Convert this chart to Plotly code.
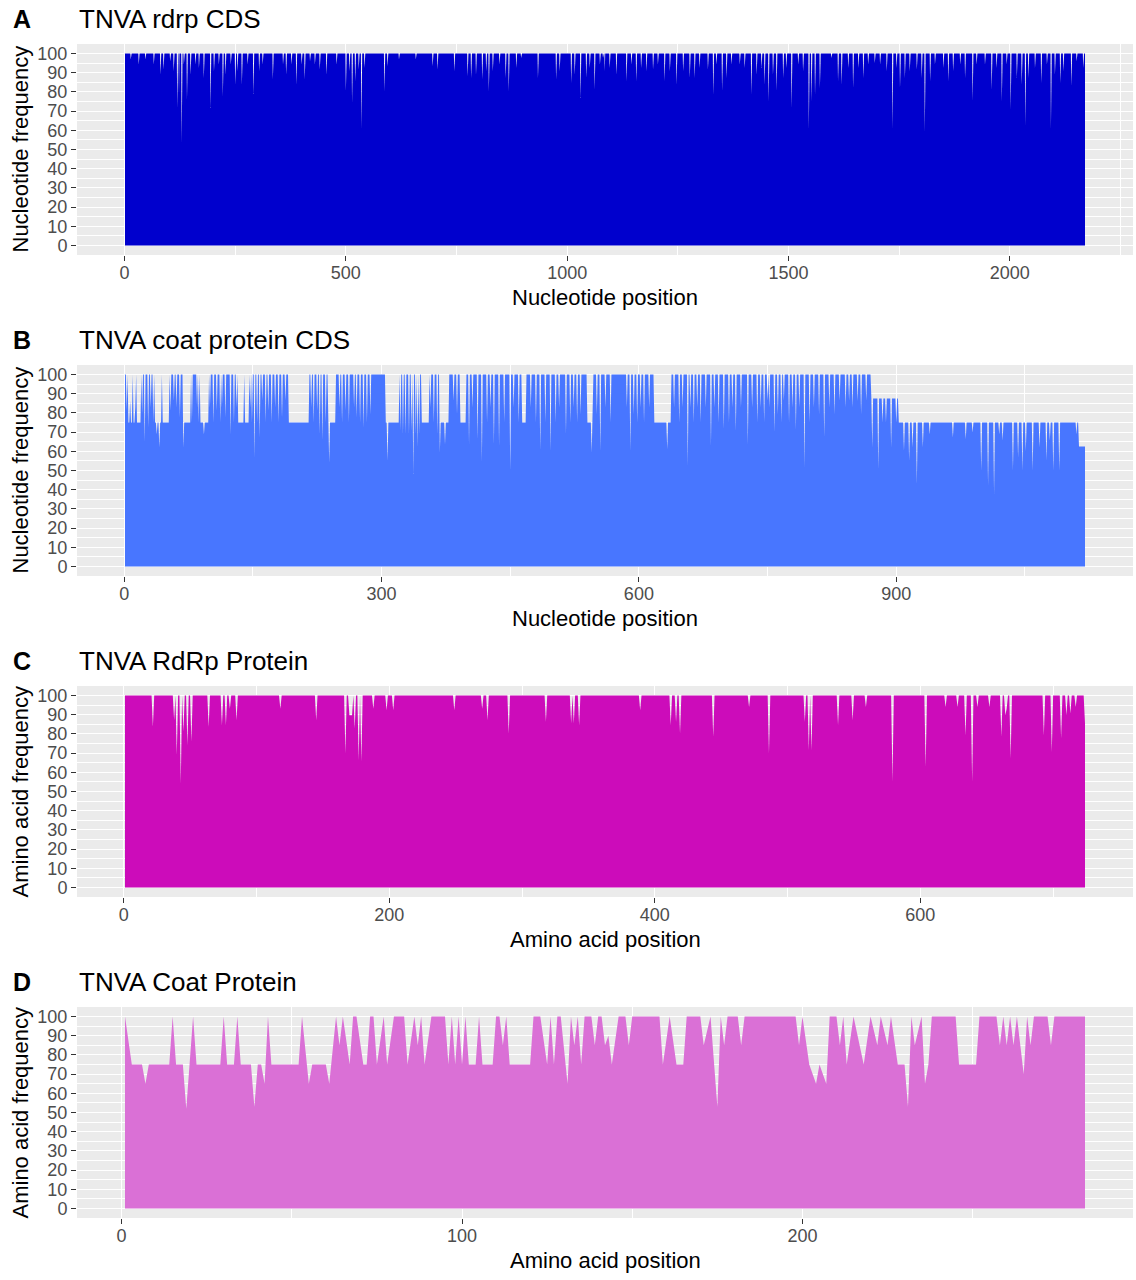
"""
Conservation profiles of TNVA coding sequences and proteins.

Four stacked area charts (ggplot-like style):
A - rdrp CDS nucleotide frequency
B - coat protein CDS nucleotide frequency
C - RdRp protein amino acid frequency
D - coat protein amino acid frequency
"""

import numpy as np
import plotly.graph_objects as go

# ---------------------------------------------------------------------------
# Data. Positions are 1-based; every position not listed
# sits at 100 % unless a run below says otherwise.
# ---------------------------------------------------------------------------

# A: rdrp CDS
rdrp_nt_length = 2170
rdrp_nt_dip_pos = [
    14, 32, 47, 66, 81, 88, 103, 111, 119, 123, 129, 134, 141, 149, 160, 168,
    179, 194, 202, 213, 222, 228, 240, 250, 255, 265, 278, 291, 304, 312, 335,
    358, 365, 377, 388, 400, 407, 419, 430, 441, 456, 479, 500, 508, 514, 521,
    529, 535, 542, 587, 594, 620, 658, 696, 707, 745, 775, 783, 794, 808, 817,
    823, 832, 847, 861, 868, 885, 896, 934, 975, 983, 1009, 1017, 1030, 1043,
    1051, 1062, 1074, 1081, 1085, 1096, 1111, 1134, 1145, 1156, 1167, 1179,
    1194, 1205, 1220, 1232, 1247, 1262, 1277, 1288, 1299, 1318, 1330, 1337,
    1350, 1360, 1371, 1390, 1401, 1416, 1428, 1439, 1446, 1455, 1465, 1473,
    1488, 1495, 1507, 1522, 1533, 1546, 1552, 1560, 1571, 1597, 1612, 1620,
    1635, 1646, 1658, 1669, 1680, 1695, 1707, 1722, 1735, 1744, 1752, 1763,
    1774, 1790, 1801, 1808, 1820, 1831, 1850, 1861, 1872, 1888, 1899, 1916,
    1925, 1944, 1959, 1970, 1982, 1993, 2002, 2016, 2027, 2035, 2042, 2057,
    2071, 2084, 2093, 2102, 2114, 2121, 2139, 2151, 2166,
]
rdrp_nt_dip_freq = [
    96.9, 94.3, 96.9, 94.3, 89.0, 91.7, 96.0, 90.8, 71.7, 78.6, 53.5, 94.3,
    76.0, 89.0, 94.3, 92.5, 87.3, 71.7, 90.8, 94.3, 77.8, 89.0, 94.3, 83.8,
    90.8, 83.8, 94.3, 78.9, 90.8, 94.3, 86.5, 94.3, 89.0, 94.3, 83.8, 94.3,
    86.5, 96.0, 94.3, 91.7, 89.0, 94.3, 80.4, 90.8, 74.3, 85.6, 91.7, 60.4,
    92.5, 80.4, 93.4, 96.9, 96.9, 93.4, 91.7, 90.8, 88.2, 87.3, 89.0, 86.5,
    90.8, 80.4, 90.8, 94.3, 87.3, 80.4, 92.5, 97.7, 87.3, 86.5, 90.8, 84.7,
    89.0, 76.9, 87.3, 92.5, 81.2, 94.3, 97.7, 90.8, 92.5, 89.0, 85.6, 94.3,
    85.6, 92.5, 90.8, 91.7, 94.3, 85.6, 90.8, 83.8, 90.8, 87.3, 87.3, 92.5,
    91.7, 78.6, 94.3, 80.4, 87.3, 94.3, 94.3, 92.5, 78.6, 89.0, 92.5, 83.8,
    75.2, 89.0, 80.4, 87.3, 92.5, 71.7, 94.3, 90.8, 60.4, 75.2, 78.6, 82.1,
    97.7, 85.6, 83.8, 92.5, 82.1, 92.5, 87.3, 94.3, 95.1, 94.3, 90.8, 60.4,
    92.5, 82.1, 87.3, 90.8, 91.7, 87.3, 58.7, 85.6, 94.3, 92.5, 85.6, 90.8,
    94.3, 87.3, 75.2, 94.3, 94.3, 81.2, 92.5, 75.2, 94.3, 70.8, 87.3, 83.8,
    62.1, 87.3, 92.5, 84.7, 94.3, 60.4, 89.0, 84.7, 90.8, 83.0, 96.0, 92.5,
]

# B: coat protein CDS - stretches that sit below 100 %
coat_nt_length = 1120
coat_nt_run_start = [5, 36, 69, 89, 133, 192, 238, 305, 347, 369, 392, 464,
                     540, 618, 871, 903, 1113]
coat_nt_run_end = [19, 52, 77, 98, 145, 215, 246, 320, 355, 378, 398, 468,
                   546, 637, 902, 1112, 1120]
coat_nt_run_freq = [75, 75, 75, 75, 75, 75, 75, 75, 75, 75, 75, 75,
                    75, 75, 87.5, 75, 62.5]
# single positions on top of the runs
coat_nt_pt_pos = [
    3, 7, 10, 13, 14, 21, 24, 28, 31, 34, 38, 41, 44, 54, 58, 61, 65, 69, 79,
    85, 87, 93, 100, 104, 108, 112, 114, 118, 124, 128, 131, 140, 147, 149,
    152, 155, 158, 161, 165, 168, 172, 176, 180, 184, 188, 218, 221, 225, 228,
    231, 235, 239, 251, 254, 258, 262, 268, 271, 275, 279, 283, 287, 307, 322,
    325, 328, 332, 335, 337, 340, 342, 344, 357, 361, 365, 368, 374, 384, 388,
    402, 406, 412, 417, 423, 427, 431, 437, 443, 450, 454, 460, 474, 480, 485,
    491, 497, 503, 507, 515, 520, 524, 528, 532, 545, 551, 555, 561, 567, 586,
    590, 594, 598, 602, 606, 612, 633, 641, 647, 651, 657, 660, 664, 668, 672,
    678, 684, 688, 693, 699, 705, 709, 713, 719, 727, 732, 738, 742, 746, 750,
    752, 758, 762, 766, 769, 775, 779, 783, 787, 793, 799, 804, 810, 816, 822,
    828, 834, 841, 845, 849, 855, 859, 865, 872, 879, 884, 888, 894, 900, 909,
    915, 919, 924, 931, 939, 966, 981, 989, 999, 1007, 1014, 1020, 1024, 1036,
    1042, 1047, 1051, 1059, 1067, 1075, 1079, 1083, 1090, 1110,
]
coat_nt_pt_freq = [
    81.1, 86.3, 100, 82.8, 100, 79.3, 64.6, 72.4, 82.8, 75, 68.9, 62, 100,
    81.1, 86.3, 82.8, 77.6, 62, 75, 82.8, 75, 68.9, 82.8, 75, 81.1, 75, 82.8,
    77.6, 68.9, 75, 82.8, 100, 82.8, 75, 56.8, 75, 67.2, 86.3, 75, 81.1, 75,
    82.8, 75, 77.6, 86.3, 82.8, 75, 81.1, 68.9, 65.5, 75, 54.2, 82.8, 75,
    81.1, 75, 82.8, 77.6, 75, 72.4, 75, 79.3, 55.1, 70.6, 68.9, 68.9, 68.9,
    70.6, 48.2, 68.9, 62, 68.9, 82.8, 75, 68.9, 59.4, 63.7, 86.3, 79.3, 63.7,
    82.8, 66.3, 54.2, 75, 82.8, 63.7, 62.9, 75, 49.9, 82.8, 75, 82.8, 75,
    60.2, 75, 60.2, 75, 82.8, 68.9, 75, 82.8, 75, 79.3, 59.4, 79.3, 60.2,
    82.8, 75, 82.8, 60.2, 79.3, 75, 82.8, 75, 82.8, 61.1, 82.8, 75, 82.8,
    52.5, 82.8, 75, 82.8, 75, 82.8, 62.9, 82.8, 75, 71.5, 75, 82.8, 70.6,
    82.8, 63.7, 82.8, 75, 82.8, 75, 86.3, 82.8, 69.8, 79.3, 75, 86.3, 75,
    82.8, 71.5, 82.8, 51.6, 75, 82.8, 79.3, 67.2, 82.8, 79.3, 86.3, 82.8,
    86.3, 82.8, 86.3, 79.3, 86.3, 62, 50.8, 75, 75, 62, 75, 60.2, 55.1, 62,
    43, 62, 68.9, 67.2, 66.3, 69.8, 49.9, 42.1, 37.8, 68.9, 65.5, 49.9, 56.8,
    49.9, 60.2, 49.9, 62, 55.1, 65.5, 49.9, 49.9, 68.9,
]

# C: RdRp protein
rdrp_aa_length = 724
rdrp_aa_dip_pos = [
    22, 38, 40, 43, 45, 48, 51, 64, 74, 77, 80, 85, 118, 145, 167, 170, 171,
    172, 174, 177, 179, 188, 198, 203, 249, 270, 274, 290, 318, 337, 339, 343,
    389, 412, 416, 419, 444, 471, 486, 513, 516, 518, 538, 549, 559, 579, 604,
    619, 628, 634, 639, 643, 652, 661, 664, 665, 668, 693, 699, 706, 710, 713,
    717, 724,
]
rdrp_aa_dip_freq = [
    83.7, 87.2, 69.0, 54.1, 81.1, 74.1, 75.9, 83.7, 84.5, 84.5, 93.2, 87.2,
    93.2, 87.2, 69.8, 89.8, 89.8, 89.8, 82.8, 66.3, 65.5, 93.2, 92.4, 92.4,
    92.4, 93.2, 87.2, 80.2, 86.3, 85.4, 85.4, 84.5, 92.4, 84.5, 86.3, 80.2,
    78.5, 94.0, 69.8, 86.3, 71.5, 71.5, 84.5, 87.2, 94.0, 55.1, 62.9, 94.0,
    94.0, 79.3, 55.1, 94.0, 94.0, 78.5, 89.8, 93.2, 67.2, 79.3, 70.6, 77.6,
    89.8, 90.6, 94.0, 85.4,
]

# D: coat protein - profile given at its break points
coat_aa_pos = [
    1, 3, 6, 7, 8, 14, 15, 16, 18, 19, 21, 22, 29, 30, 31, 33, 34, 35, 38, 39,
    40, 41, 42, 43, 44, 52, 53, 55, 56, 60, 61, 63, 64, 65, 67, 68, 69, 71,
    72, 73, 74, 75, 77, 78, 80, 83, 84, 86, 87, 88, 89, 91, 95, 96, 97, 98,
    99, 100, 101, 102, 104, 105, 106, 109, 110, 111, 112, 113, 114, 120, 121,
    123, 125, 126, 127, 128, 129, 131, 132, 133, 134, 135, 136, 138, 139, 140,
    141, 142, 143, 144, 146, 148, 149, 150, 158, 159, 161, 163, 165, 166, 170,
    171, 173, 175, 176, 177, 178, 181, 182, 183, 198, 199, 200, 202, 204, 205,
    207, 208, 210, 211, 212, 213, 215, 218, 220, 222, 223, 225, 226, 228, 230,
    231, 232, 233, 235, 236, 237, 238, 245, 246, 251, 252, 257, 258, 259, 260,
    261, 262, 263, 265, 266, 267, 268, 272, 273, 274, 283,
]
coat_aa_freq = [
    100, 75, 75, 65, 75, 75, 100, 75, 75, 52, 100, 75, 75, 100, 75, 75, 100,
    75, 75, 53, 75, 75, 65, 100, 75, 75, 100, 65, 75, 75, 65, 100, 85, 100,
    75, 100, 100, 75, 75, 100, 100, 75, 100, 75, 100, 100, 75, 100, 85, 100,
    75, 100, 100, 75, 100, 75, 100, 75, 100, 75, 75, 100, 75, 75, 100, 100,
    85, 100, 75, 75, 100, 100, 75, 100, 75, 100, 100, 65, 100, 85, 100, 75,
    100, 100, 85, 100, 100, 85, 90, 75, 100, 100, 85, 100, 100, 75, 100, 75,
    75, 100, 100, 85, 100, 53, 100, 85, 100, 100, 85, 100, 100, 85, 100, 75,
    65, 75, 65, 100, 100, 85, 100, 75, 100, 75, 100, 85, 100, 85, 100, 75,
    75, 53, 100, 85, 100, 65, 75, 100, 100, 75, 75, 100, 100, 85, 100, 85,
    100, 85, 100, 70, 100, 85, 100, 100, 85, 100, 100,
]

# ---------------------------------------------------------------------------
# Build the per-position series
# ---------------------------------------------------------------------------
rdrp_nt_freq = np.full(rdrp_nt_length, 100.0)
rdrp_nt_freq[np.array(rdrp_nt_dip_pos) - 1] = rdrp_nt_dip_freq

coat_nt_freq = np.full(coat_nt_length, 100.0)
for start, end, value in zip(coat_nt_run_start, coat_nt_run_end, coat_nt_run_freq):
    coat_nt_freq[start - 1:end] = value
coat_nt_freq[np.array(coat_nt_pt_pos) - 1] = coat_nt_pt_freq

rdrp_aa_freq = np.full(rdrp_aa_length, 100.0)
rdrp_aa_freq[np.array(rdrp_aa_dip_pos) - 1] = rdrp_aa_dip_freq

panels = [
    dict(letter="A", title="TNVA rdrp CDS",
         x=np.arange(1, rdrp_nt_length + 1), y=rdrp_nt_freq,
         color="#0000CD", major=500, xlab="Nucleotide position",
         ylab="Nucleotide frequency"),
    dict(letter="B", title="TNVA coat protein CDS",
         x=np.arange(1, coat_nt_length + 1), y=coat_nt_freq,
         color="#4876FF", major=300, xlab="Nucleotide position",
         ylab="Nucleotide frequency"),
    dict(letter="C", title="TNVA RdRp Protein",
         x=np.arange(1, rdrp_aa_length + 1), y=rdrp_aa_freq,
         color="#CC0CBA", major=200, xlab="Amino acid position",
         ylab="Amino acid frequency"),
    dict(letter="D", title="TNVA Coat Protein",
         x=np.array(coat_aa_pos), y=np.array(coat_aa_freq, dtype=float),
         color="#DA70D6", major=100, xlab="Amino acid position",
         ylab="Amino acid frequency"),
]

# ---------------------------------------------------------------------------
# Layout geometry (pixels)
# ---------------------------------------------------------------------------
W, H = 1136, 1280
ML, MR, MT, MB = 77, 3, 44, 61
PLOT_W = W - ML - MR
PLOT_H = H - MT - MB
PANEL_H = 211
PANEL_STEP = 321
FONT = "Liberation Sans, Arial, Helvetica, sans-serif"


def px_to_paper_y(py):
    return (H - MB - py) / PLOT_H


def px_to_paper_x(px):
    return (px - ML) / PLOT_W


fig = go.Figure()
annotations = []

for i, p in enumerate(panels):
    n = i + 1
    xname = "x" if n == 1 else f"x{n}"
    yname = "y" if n == 1 else f"y{n}"
    top = MT + PANEL_STEP * i
    bottom = top + PANEL_H

    fig.add_trace(go.Scatter(
        x=p["x"], y=p["y"], mode="lines", fill="tozeroy",
        fillcolor=p["color"], line=dict(width=0, color=p["color"]),
        xaxis=xname, yaxis=yname, showlegend=False,
        hovertemplate="%{x}: %{y:.1f}<extra></extra>",
    ))

    x0, x1 = float(p["x"].min()), float(p["x"].max())
    pad = 0.05 * (x1 - x0)
    axis_common = dict(
        showgrid=True, gridcolor="white", gridwidth=1.3,
        zeroline=False, showline=False,
        ticks="outside", ticklen=5, tickwidth=1, tickcolor="#333333",
        tickfont=dict(size=18, color="#4D4D4D", family=FONT),
    )
    fig.update_layout({
        f"xaxis{'' if n == 1 else n}": dict(
            axis_common, domain=[0, 1], anchor=yname,
            range=[x0 - pad, x1 + pad], tick0=0, dtick=p["major"],
            ticklabelstandoff=-4,
            minor=dict(tick0=0, dtick=p["major"] / 2, showgrid=True,
                       gridcolor="white", gridwidth=0.6, ticks=""),
        ),
        f"yaxis{'' if n == 1 else n}": dict(
            axis_common, anchor=xname,
            domain=[px_to_paper_y(bottom), px_to_paper_y(top)],
            range=[-5, 105], tick0=0, dtick=10,
            minor=dict(tick0=0, dtick=5, showgrid=True,
                       gridcolor="white", gridwidth=0.6, ticks=""),
        ),
    })

    # panel letter and title
    annotations.append(dict(
        text=f"<b>{p['letter']}</b>", x=px_to_paper_x(11), y=px_to_paper_y(top - 25),
        xref="paper", yref="paper", xanchor="left", yanchor="middle",
        showarrow=False, font=dict(size=25, color="black", family=FONT)))
    annotations.append(dict(
        text=p["title"], x=0, y=px_to_paper_y(top - 25),
        xref="paper", yref="paper", xanchor="left", yanchor="middle",
        showarrow=False, font=dict(size=26, color="black", family=FONT)))
    # axis titles
    annotations.append(dict(
        text=p["xlab"], x=0.5, y=px_to_paper_y(bottom + 42),
        xref="paper", yref="paper", xanchor="center", yanchor="middle",
        showarrow=False, font=dict(size=22, color="black", family=FONT)))
    annotations.append(dict(
        text=p["ylab"], x=px_to_paper_x(20), y=px_to_paper_y(top + PANEL_H / 2),
        xref="paper", yref="paper", xanchor="center", yanchor="middle",
        textangle=-90, showarrow=False,
        font=dict(size=22, color="black", family=FONT)))

fig.update_layout(
    width=W, height=H,
    margin=dict(l=ML, r=MR, t=MT, b=MB, autoexpand=False),
    paper_bgcolor="white", plot_bgcolor="#EBEBEB",
    font=dict(family=FONT),
    annotations=annotations,
    showlegend=False,
)

# drop the default page margin so the figure sits at the window origin
fig.write_html("out.html", config={"displayModeBar": False},
               post_script="document.body.style.margin = '0px';")
